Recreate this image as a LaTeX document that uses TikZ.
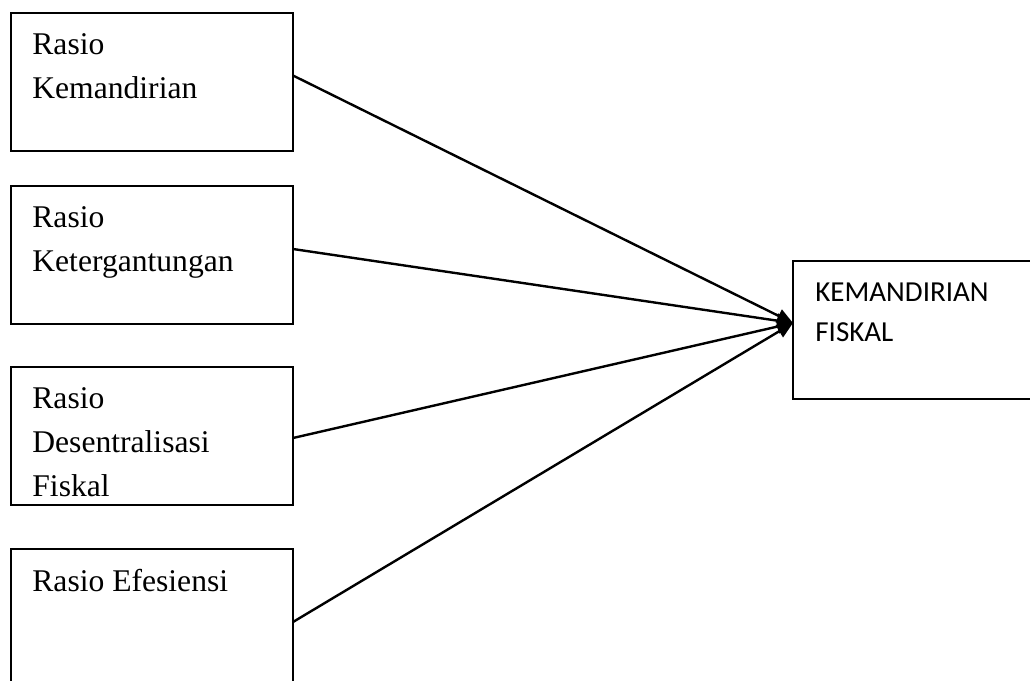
\documentclass[tikz,border=0pt]{standalone}
\usepackage{fontspec}
\setmainfont{Liberation Serif}
\newfontfamily\calibrifont{Carlito}
\usetikzlibrary{arrows.meta,positioning}

\begin{document}
\begin{tikzpicture}[
  x=0.5pt, y=-0.5pt,
  box/.style={draw, line width=1.2pt, anchor=north west, inner sep=0pt, outer sep=0pt, minimum width=141pt, minimum height=69pt},
  lbl/.style={anchor=north west, inner sep=0pt, align=left, font=\fontsize{15.8}{22}\selectfont},
  caps/.style={anchor=north west, inner sep=0pt, align=left, font=\calibrifont\fontsize{14.5}{20}\selectfont},
  arrow/.style={-{Triangle[length=8pt, width=7pt]}, line width=1.2pt}
]
\useasboundingbox (0,0) rectangle (1030,681);
\clip (0,0) rectangle (1030,681);
% left boxes
\node[box] (kemandirian) at (11,13) {};
\node[box] (ketergantungan) at (11,186) {};
\node[box] (desentralisasi) at (11,367) {};
\node[box] (efesiensi) at (11,549) {};
% right box
\node[box, minimum width=125pt] (fiskal) at (793,261) {};
% texts
\node[lbl] (t1) at ([shift={(21,20)}]kemandirian.north west) {Rasio\\Kemandirian};
\node[lbl] (t2) at ([shift={(21,20)}]ketergantungan.north west) {Rasio\\Ketergantungan};
\node[lbl] (t3) at ([shift={(21,20)}]desentralisasi.north west) {Rasio\\Desentralisasi\\Fiskal};
\node[lbl] (t4) at ([shift={(21,20)}]efesiensi.north west) {Rasio Efesiensi};
\node[caps] (t5) at ([shift={(22,21)}]fiskal.north west) {KEMANDIRIAN\\FISKAL};
% arrows
\coordinate (tip) at ([yshift=3.5pt]fiskal.west);
\draw[arrow] ([yshift=3.25pt]kemandirian.east) -- (tip);
\draw[arrow] ([yshift=3pt]ketergantungan.east) -- (tip);
\draw[arrow] ([yshift=-1pt]desentralisasi.east) -- (tip);
\draw[arrow] ([yshift=-2pt]efesiensi.east) -- (tip);
\end{tikzpicture}
\end{document}
